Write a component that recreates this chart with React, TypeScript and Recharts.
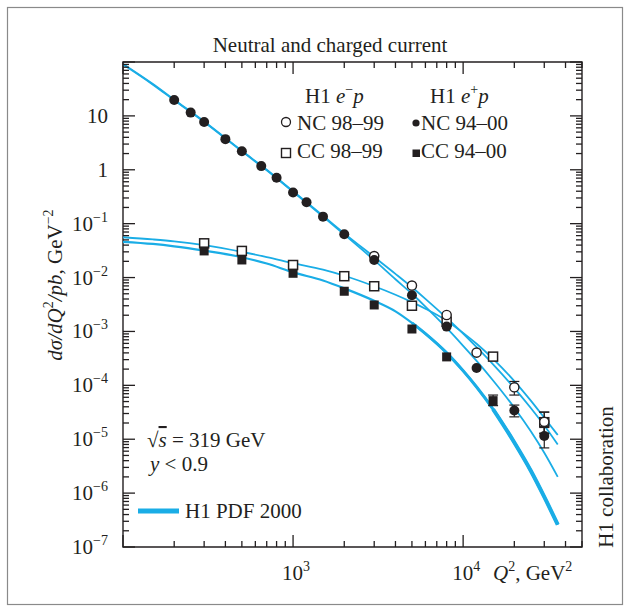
import React from "react";
import { ComposedChart, Line, Scatter, XAxis, YAxis, ErrorBar, ReferenceArea } from "recharts";

const curveQ2 = [100, 150, 200, 300, 500, 700, 1000, 1500, 2000, 3000, 4000, 5000, 6000, 8000, 10000, 12000, 15000, 20000, 25000, 30000, 36000];
const ncEmCurve = [92, 39, 20, 7.9, 2.25, 1.0, 0.4, 0.14, 0.066, 0.024, 0.0117, 0.0066, 0.00403, 0.00178, 9.1e-4, 5.1e-4, 2.45e-4, 8.9e-5, 3.8e-5, 1.8e-5, 8.0e-6];
const ncEpCurve = [90, 38, 19.5, 7.7, 2.2, 0.98, 0.39, 0.135, 0.063, 0.021, 0.0093, 0.005, 0.0029, 0.00116, 5.4e-4, 2.84e-4, 1.23e-4, 3.84e-5, 1.4e-5, 5.6e-6, 2.0e-6];
const ccEmCurve = [0.056, 0.051, 0.047, 0.04, 0.03, 0.024, 0.0185, 0.014, 0.0108, 0.0069, 0.0048, 0.0035, 0.00264, 0.00158, 9.4e-4, 5.9e-4, 3.1e-4, 1.2e-4, 5.2e-5, 2.5e-5, 1.2e-5];
const ccEpCurve = [0.046, 0.042, 0.038, 0.0316, 0.0238, 0.0182, 0.0125, 0.0088, 0.0063, 0.0037, 0.00236, 0.00144, 9.1e-4, 4.0e-4, 1.86e-4, 9.3e-5, 3.6e-5, 8.7e-6, 2.6e-6, 8.5e-7, 2.6e-7];

// measured points
const ncEpQ2 = [200, 250, 300, 400, 500, 650, 800, 1000, 1200, 1500, 2000, 3000, 5000, 8000, 12000, 20000, 30000];
const ncEpVal = [19.7, 11.5, 7.7, 3.7, 2.2, 1.17, 0.71, 0.38, 0.25, 0.135, 0.0636, 0.0212, 0.0047, 0.00123, 0.00021, 3.4e-5, 1.15e-5];
const ncEpErr = [null, null, null, null, null, null, null, null, null, null, null, null, null, null, null, [8e-6, 9e-6], [4.6e-6, 5e-6]];

const ncEmQ2 = [3000, 5000, 8000, 12000, 20000, 30000];
const ncEmVal = [0.025, 0.0071, 0.00202, 0.000405, 9.2e-5, 2.1e-5];
const ncEmErr = [null, null, null, null, [2.6e-5, 2.6e-5], [8e-6, 1.1e-5]];

const ccEmQ2 = [300, 500, 1000, 2000, 3000, 5000, 8000, 15000, 30000];
const ccEmVal = [0.0432, 0.0312, 0.0171, 0.0106, 0.0069, 0.003, 0.00152, 0.000341, 2.07e-5];
const ccEmErr = [null, null, null, null, null, null, null, null, [8e-6, 1.1e-5]];

const ccEpQ2 = [300, 500, 1000, 2000, 3000, 5000, 8000, 15000];
const ccEpVal = [0.0312, 0.0212, 0.012, 0.00557, 0.0031, 0.00111, 0.000337, 5.2e-5];
const ccEpErr = [null, null, null, null, null, null, null, [1.0e-5, 1.4e-5]];

const xDecades = [2, 3, 4];
const yDecades = [-7, -6, -5, -4, -3, -2, -1, 0, 1, 2];
const mults = [1, 2, 3, 4, 5, 6, 7, 8, 9];
const xLabelled = [3, 4];
const yLabelled = [-7, -6, -5, -4, -3, -2, -1, 0, 1];

const BLUE = "#1aade6";
const INK = "#231f20";
const FONT = "'Liberation Serif', 'Times New Roman', serif";
const PL = 123, PR = 582, PT = 62, PB = 547;

const xTicks = xDecades.flatMap(e => mults.map(m => m * Math.pow(10, e))).filter(v => v <= 50000);
const yTicks = yDecades.flatMap(e => mults.map(m => m * Math.pow(10, e))).filter(v => v <= 100.001);

const pts = (xs: number[], ys: number[], errs?: any[]) =>
    xs.map((q2, i) => ({ q2, s: ys[i], err: errs ? errs[i] ?? undefined : undefined }));

const isDecade = (v: number) => {
    const lg = Math.log10(v);
    return Math.abs(lg - Math.round(lg)) < 1e-6;
};

const fmtExp = (e: number) => (e < 0 ? "\u2212" + Math.abs(e) : String(e));

function XTick(props: any) {
    const { x, payload } = props;
    const v = payload.value;
    const major = isDecade(v);
    const len = major ? 12 : 6;
    const e = Math.round(Math.log10(v));
    return (
        <g>
            <line x1={x} x2={x} y1={PB} y2={PB - len} stroke={INK} strokeWidth={1.3} />
            <line x1={x} x2={x} y1={PT} y2={PT + len} stroke={INK} strokeWidth={1.3} />
            {major && xLabelled.includes(e) && (
                <text x={x - 11} y={580} fontSize={21} fontFamily={FONT} fill={INK}>
                    10<tspan dy={-9} fontSize={14}>{fmtExp(e)}</tspan>
                </text>
            )}
        </g>
    );
}

function YTick(props: any) {
    const { y, payload } = props;
    const v = payload.value;
    const major = isDecade(v);
    const len = major ? 12 : 6;
    const e = Math.round(Math.log10(v));
    let label: any = null;
    if (major && yLabelled.includes(e)) {
        if (e === 0) label = "1";
        else if (e === 1) label = "10";
        else label = <>10<tspan dy={-9} fontSize={14}>{fmtExp(e)}</tspan></>;
    }
    return (
        <g>
            <line x1={PL} x2={PL + len} y1={y} y2={y} stroke={INK} strokeWidth={1.3} />
            <line x1={PR} x2={PR - len} y1={y} y2={y} stroke={INK} strokeWidth={1.3} />
            {label !== null && (
                <text x={108} y={y + 7} textAnchor="end" fontSize={21} fontFamily={FONT} fill={INK}>
                    {label}
                </text>
            )}
        </g>
    );
}

const FilledCircle = (p: any) => <circle cx={p.cx} cy={p.cy} r={5} fill={INK} />;
const OpenCircle = (p: any) => <circle cx={p.cx} cy={p.cy} r={4.6} fill="#fff" stroke={INK} strokeWidth={1.4} />;
const FilledSquare = (p: any) => <rect x={p.cx - 4.5} y={p.cy - 4.5} width={9} height={9} fill={INK} />;
const OpenSquare = (p: any) => (
    <rect x={p.cx - 4.5} y={p.cy - 4.5} width={9} height={9} fill="#fff" stroke={INK} strokeWidth={1.5} />
);

export default function App() {
    const ncEm = pts(curveQ2, ncEmCurve);
    const ncEp = pts(curveQ2, ncEpCurve);
    const ccEm = pts(curveQ2, ccEmCurve);
    const ccEp = pts(curveQ2, ccEpCurve);

    return (
        <div style={{ position: "absolute", left: 0, top: 0, width: 631, height: 615, background: "#fff" }}>
            <ComposedChart width={631} height={615} margin={{ top: PT, right: 631 - PR, bottom: 0, left: 0 }}>
                <XAxis
                    dataKey="q2"
                    type="number"
                    scale="log"
                    domain={[100, 50000]}
                    allowDataOverflow
                    ticks={xTicks}
                    interval={0}
                    tick={(p: any) => <XTick {...p} />}
                    tickLine={false}
                    axisLine={false}
                    height={615 - PB}
                />
                <YAxis
                    dataKey="s"
                    type="number"
                    scale="log"
                    domain={[1e-7, 100]}
                    allowDataOverflow
                    ticks={yTicks}
                    interval={0}
                    tick={(p: any) => <YTick {...p} />}
                    tickLine={false}
                    axisLine={false}
                    width={PL}
                />
                <ReferenceArea x1={100} x2={50000} y1={1e-7} y2={100} fill="none" stroke={INK} strokeWidth={1.4} ifOverflow="visible" />

                <Line data={ncEm} dataKey="s" type="monotone" stroke={BLUE} strokeWidth={1.8} dot={false} isAnimationActive={false} />
                <Line data={ncEp} dataKey="s" type="monotone" stroke={BLUE} strokeWidth={1.8} dot={false} isAnimationActive={false} />
                <Line data={ccEm} dataKey="s" type="monotone" stroke={BLUE} strokeWidth={1.8} dot={false} isAnimationActive={false} />
                <Line data={ccEp} dataKey="s" type="monotone" stroke={BLUE} strokeWidth={2.2} dot={false} isAnimationActive={false} />
                {/* uncertainty band widens at high Q2 */}
                <Line data={ccEp.filter(d => d.q2 >= 5000)} dataKey="s" type="monotone" stroke={BLUE} strokeWidth={3} dot={false} isAnimationActive={false} />
                <Line data={ccEp.filter(d => d.q2 >= 15000)} dataKey="s" type="monotone" stroke={BLUE} strokeWidth={4} dot={false} isAnimationActive={false} />

                <Scatter data={pts(ccEmQ2, ccEmVal, ccEmErr)} dataKey="s" shape={OpenSquare} isAnimationActive={false}>
                    <ErrorBar dataKey="err" direction="y" width={5} stroke={INK} strokeWidth={1.2} />
                </Scatter>
                <Scatter data={pts(ccEpQ2, ccEpVal, ccEpErr)} dataKey="s" shape={FilledSquare} isAnimationActive={false}>
                    <ErrorBar dataKey="err" direction="y" width={5} stroke={INK} strokeWidth={1.2} />
                </Scatter>
                <Scatter data={pts(ncEmQ2, ncEmVal, ncEmErr)} dataKey="s" shape={OpenCircle} isAnimationActive={false}>
                    <ErrorBar dataKey="err" direction="y" width={5} stroke={INK} strokeWidth={1.2} />
                </Scatter>
                <Scatter data={pts(ncEpQ2, ncEpVal, ncEpErr)} dataKey="s" shape={FilledCircle} isAnimationActive={false}>
                    <ErrorBar dataKey="err" direction="y" width={5} stroke={INK} strokeWidth={1.2} />
                </Scatter>
            </ComposedChart>

            <svg width={631} height={615} style={{ position: "absolute", left: 0, top: 0, pointerEvents: "none" }} fontFamily={FONT} fill={INK}>
                <rect x={7.5} y={7.5} width={615} height={597} fill="none" stroke="#8a8a8a" strokeWidth={1.2} />
                <text x={330} y={52} textAnchor="middle" fontSize={21}>Neutral and charged current</text>

                <text x={305} y={103} fontSize={21}>
                    H1 <tspan fontStyle="italic">e</tspan><tspan dy={-9} fontSize={14}>{"\u2212"}</tspan><tspan dy={9} fontStyle="italic">p</tspan>
                </text>
                <text x={430} y={103} fontSize={21}>
                    H1 <tspan fontStyle="italic">e</tspan><tspan dy={-9} fontSize={14}>+</tspan><tspan dy={9} fontStyle="italic">p</tspan>
                </text>
                <circle cx={286} cy={122} r={4.5} fill="#fff" stroke={INK} strokeWidth={1.3} />
                <text x={297} y={130} fontSize={21}>NC 98–99</text>
                <rect x={281.5} y={148.5} width={9} height={9} fill="#fff" stroke={INK} strokeWidth={1.4} />
                <text x={297} y={158} fontSize={21}>CC 98–99</text>
                <circle cx={416} cy={123} r={3.6} fill={INK} />
                <text x={421} y={130} fontSize={21}>NC 94–00</text>
                <rect x={412.5} y={149.5} width={7.5} height={7.5} fill={INK} />
                <text x={421} y={158} fontSize={21}>CC 94–00</text>

                <text x={147} y={447} fontSize={21}>
                    √<tspan fontStyle="italic" textDecoration="overline">s</tspan> = 319 GeV
                </text>
                <text x={150} y={471} fontSize={21}>
                    <tspan fontStyle="italic">y</tspan> {"<"} 0.9
                </text>
                <line x1={138} x2={179} y1={511} y2={511} stroke={BLUE} strokeWidth={5} />
                <text x={185} y={518} fontSize={21}>H1 PDF 2000</text>

                <text x={493} y={580} fontSize={21}>
                    <tspan fontStyle="italic">Q</tspan><tspan dy={-9} fontSize={14}>2</tspan><tspan dy={9}>, GeV</tspan><tspan dy={-9} fontSize={14}>2</tspan>
                </text>

                <text x={62} y={285} fontSize={21} textAnchor="middle" transform="rotate(-90 62 285)">
                    <tspan fontStyle="italic">dσ/dQ</tspan><tspan dy={-9} fontSize={14}>2</tspan><tspan dy={9} fontStyle="italic">/pb</tspan>, GeV<tspan dy={-9} fontSize={14}>{"\u2212"}2</tspan>
                </text>
                <text x={613} y={477} fontSize={21} textAnchor="middle" transform="rotate(-90 613 477)">H1 collaboration</text>
            </svg>
        </div>
    );
}
